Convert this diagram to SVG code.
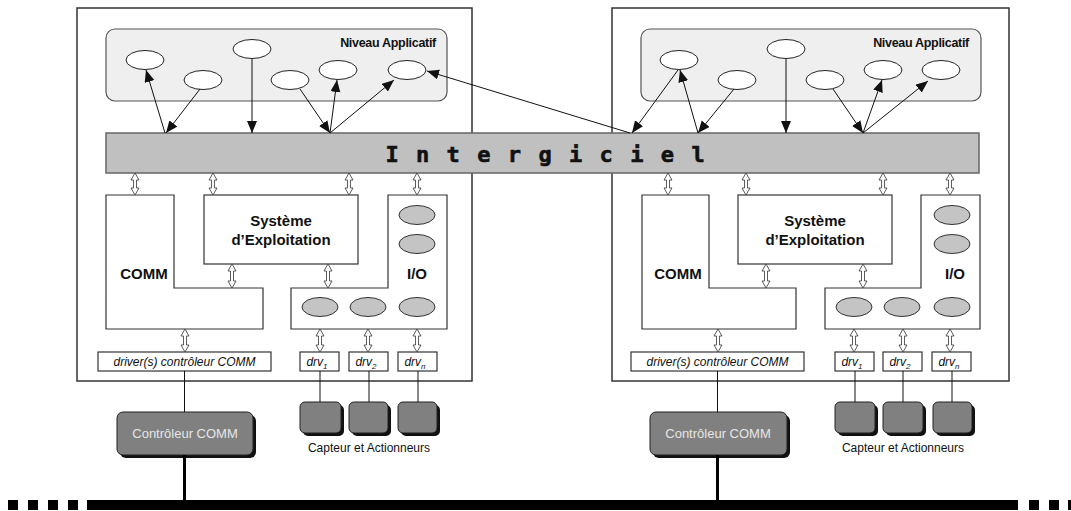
<svg xmlns="http://www.w3.org/2000/svg" width="1071" height="511" viewBox="0 0 1071 511">
<style>
.outer{fill:#fff;stroke:#333;stroke-width:1.5}
.app{fill:#efefef;stroke:#555;stroke-width:1.2}
.bar{fill:#c0c0c0;stroke:#666;stroke-width:1.5}
.blk{fill:#fff;stroke:#333;stroke-width:1.2}
.wel{fill:#fff;stroke:#222;stroke-width:1}
.gel{fill:#c4c4c4;stroke:#333;stroke-width:1}
.ln{stroke:#111;stroke-width:1;fill:none}
.arr{stroke:#111;stroke-width:1;fill:none;marker-end:url(#ah)}
.dbl{fill:#fff;stroke:#333;stroke-width:0.8}
.dev{fill:#808080;stroke:#222;stroke-width:1}
.sh{fill:#111}
.t{font-family:"Liberation Sans",Arial,sans-serif;fill:#111}
.b{font-weight:bold}
.i{font-style:italic}
</style>
<defs>
<marker id="ah" markerUnits="userSpaceOnUse" markerWidth="13" markerHeight="11" refX="12" refY="5" orient="auto">
<path d="M0,0 L12,5 L0,10 z" fill="#111"/>
</marker>
</defs>

<!-- Bus -->
<g id="bus">
<rect x="87" y="500" width="931" height="10" fill="#000"/>
<rect x="8" y="500" width="10" height="10" fill="#000"/>
<rect x="28" y="500" width="10" height="10" fill="#000"/>
<rect x="48" y="500" width="10" height="10" fill="#000"/>
<rect x="68" y="500" width="10" height="10" fill="#000"/>
<rect x="1029" y="500" width="10" height="10" fill="#000"/>
<rect x="1049" y="500" width="10" height="10" fill="#000"/>
<rect x="1068" y="500" width="10" height="10" fill="#000"/>
</g>

<!-- Left node -->
<g id="node-left">
<rect class="outer" x="77" y="8" width="395" height="373"/>
<g id="app-left">
<rect class="app" x="106" y="29" width="341" height="72" rx="9"/>
<text class="t b" x="436" y="47" font-size="12.5" text-anchor="end" letter-spacing="-0.3">Niveau Applicatif</text>
<ellipse class="wel" cx="145" cy="60" rx="19" ry="9.5"/>
<ellipse class="wel" cx="203" cy="80" rx="19" ry="9.5"/>
<ellipse class="wel" cx="252" cy="49" rx="19" ry="9.5"/>
<ellipse class="wel" cx="290" cy="80" rx="19" ry="9.5"/>
<ellipse class="wel" cx="338" cy="70" rx="19" ry="9.5"/>
<ellipse class="wel" cx="407" cy="70" rx="19" ry="9.5"/>
</g>
<g id="comm-left">
<path class="blk" d="M106,195 H174 V288 H263 V329 H106 Z"/>
<text class="t b" x="144" y="279" font-size="15" text-anchor="middle">COMM</text>
</g>
<g id="os-left">
<rect class="blk" x="204" y="195" width="154" height="69"/>
<text class="t b" x="281" y="226" font-size="15" text-anchor="middle">Système</text>
<text class="t b" x="281" y="245" font-size="15" text-anchor="middle">d’Exploitation</text>
</g>
<g id="io-left">
<path class="blk" d="M388,195 H447 V329 H291 V288 H388 Z"/>
<text class="t b" x="417" y="279" font-size="15" text-anchor="middle">I/O</text>
<ellipse class="gel" cx="417" cy="215" rx="18" ry="9.5"/>
<ellipse class="gel" cx="417" cy="244" rx="18" ry="9.5"/>
<ellipse class="gel" cx="320" cy="307" rx="18" ry="9.5"/>
<ellipse class="gel" cx="368" cy="307" rx="18" ry="9.5"/>
<ellipse class="gel" cx="417" cy="307" rx="18" ry="9.5"/>
</g>
<g id="drivers-left">
<rect class="blk" x="98" y="352" width="173" height="19"/>
<text class="t i" x="184.5" y="366" font-size="12" text-anchor="middle">driver(s) contrôleur COMM</text>
<rect class="blk" x="300" y="352" width="39" height="19"/>
<text class="t i" x="317" y="366" font-size="12" text-anchor="middle">drv<tspan font-size="8" dy="3">1</tspan></text>
<rect class="blk" x="349" y="352" width="39" height="19"/>
<text class="t i" x="366" y="366" font-size="12" text-anchor="middle">drv<tspan font-size="8" dy="3">2</tspan></text>
<rect class="blk" x="398" y="352" width="39" height="19"/>
<text class="t i" x="415" y="366" font-size="12" text-anchor="middle">drv<tspan font-size="8" dy="3">n</tspan></text>
</g>
<g id="ctrl-left">
<rect class="sh" x="120" y="415" width="136" height="43" rx="6"/>
<rect class="dev" x="117" y="412" width="136" height="43" rx="6"/>
<text class="t" x="185" y="438" font-size="13" text-anchor="middle" style="fill:#e6e6e6">Contrôleur COMM</text>
</g>
<g id="sensors-left">
<rect class="sh" x="303" y="405" width="41" height="31" rx="5"/>
<rect class="dev" x="300" y="402" width="41" height="31" rx="5"/>
<rect class="sh" x="352" y="405" width="39" height="31" rx="5"/>
<rect class="dev" x="349" y="402" width="39" height="31" rx="5"/>
<rect class="sh" x="401" y="405" width="39" height="31" rx="5"/>
<rect class="dev" x="398" y="402" width="39" height="31" rx="5"/>
<text class="t" x="369" y="452" font-size="12" text-anchor="middle">Capteur et Actionneurs</text>
</g>
</g>

<!-- Right node -->
<g id="node-right">
<rect class="outer" x="612" y="8" width="397" height="373"/>
<g id="app-right">
<rect class="app" x="641" y="29" width="340" height="72" rx="9"/>
<text class="t b" x="969" y="47" font-size="12.5" text-anchor="end" letter-spacing="-0.3">Niveau Applicatif</text>
<ellipse class="wel" cx="679" cy="60" rx="19" ry="9.5"/>
<ellipse class="wel" cx="737" cy="80" rx="19" ry="9.5"/>
<ellipse class="wel" cx="786" cy="49" rx="19" ry="9.5"/>
<ellipse class="wel" cx="825" cy="80" rx="19" ry="9.5"/>
<ellipse class="wel" cx="883" cy="70" rx="19" ry="9.5"/>
<ellipse class="wel" cx="941" cy="70" rx="19" ry="9.5"/>
</g>
<g id="comm-right">
<path class="blk" d="M642,195 H709 V288 H796 V329 H642 Z"/>
<text class="t b" x="678" y="279" font-size="15" text-anchor="middle">COMM</text>
</g>
<g id="os-right">
<rect class="blk" x="738" y="195" width="154" height="69"/>
<text class="t b" x="815" y="226" font-size="15" text-anchor="middle">Système</text>
<text class="t b" x="815" y="245" font-size="15" text-anchor="middle">d’Exploitation</text>
</g>
<g id="io-right">
<path class="blk" d="M921,195 H980 V329 H825 V288 H921 Z"/>
<text class="t b" x="955" y="279" font-size="15" text-anchor="middle">I/O</text>
<ellipse class="gel" cx="952" cy="215" rx="18" ry="9.5"/>
<ellipse class="gel" cx="952" cy="244" rx="18" ry="9.5"/>
<ellipse class="gel" cx="854" cy="307" rx="18" ry="9.5"/>
<ellipse class="gel" cx="902" cy="307" rx="18" ry="9.5"/>
<ellipse class="gel" cx="952" cy="307" rx="18" ry="9.5"/>
</g>
<g id="drivers-right">
<rect class="blk" x="631" y="352" width="173" height="19"/>
<text class="t i" x="717.5" y="366" font-size="12" text-anchor="middle">driver(s) contrôleur COMM</text>
<rect class="blk" x="835" y="352" width="39" height="19"/>
<text class="t i" x="852" y="366" font-size="12" text-anchor="middle">drv<tspan font-size="8" dy="3">1</tspan></text>
<rect class="blk" x="883" y="352" width="39" height="19"/>
<text class="t i" x="900" y="366" font-size="12" text-anchor="middle">drv<tspan font-size="8" dy="3">2</tspan></text>
<rect class="blk" x="932" y="352" width="39" height="19"/>
<text class="t i" x="949" y="366" font-size="12" text-anchor="middle">drv<tspan font-size="8" dy="3">n</tspan></text>
</g>
<g id="ctrl-right">
<rect class="sh" x="653" y="415" width="137" height="43" rx="6"/>
<rect class="dev" x="650" y="412" width="137" height="43" rx="6"/>
<text class="t" x="718" y="438" font-size="13" text-anchor="middle" style="fill:#e6e6e6">Contrôleur COMM</text>
</g>
<g id="sensors-right">
<rect class="sh" x="838" y="405" width="40" height="31" rx="5"/>
<rect class="dev" x="835" y="402" width="40" height="31" rx="5"/>
<rect class="sh" x="886" y="405" width="40" height="31" rx="5"/>
<rect class="dev" x="883" y="402" width="40" height="31" rx="5"/>
<rect class="sh" x="936" y="405" width="39" height="31" rx="5"/>
<rect class="dev" x="933" y="402" width="39" height="31" rx="5"/>
<text class="t" x="903" y="452" font-size="12" text-anchor="middle">Capteur et Actionneurs</text>
</g>
</g>

<!-- Intergiciel -->
<g id="intergiciel">
<rect class="bar" x="106" y="133" width="873" height="40"/>
<text x="392 422.6 453.2 483.8 514.4 545 575.6 606.2 636.8 667.4 698" y="161.5" text-anchor="middle" font-family="'DejaVu Sans Mono',monospace" font-weight="bold" font-size="22" fill="#111" stroke="#111" stroke-width="0.6">Intergiciel</text>
</g>

<!-- Connectors -->
<g id="connectors">
<line class="arr" x1="165" y1="133" x2="146" y2="70"/>
<line class="arr" x1="200" y1="89" x2="166" y2="133"/>
<line class="arr" x1="252" y1="59" x2="252" y2="133"/>
<line class="arr" x1="300" y1="89" x2="330" y2="133"/>
<line class="arr" x1="330" y1="133" x2="337" y2="80"/>
<line class="arr" x1="330" y1="133" x2="394" y2="80"/>
<line class="arr" x1="630" y1="133" x2="427" y2="71"/>

<line class="arr" x1="678" y1="70" x2="632" y2="133"/>
<line class="arr" x1="698" y1="133" x2="680" y2="70"/>
<line class="arr" x1="734" y1="89" x2="698" y2="133"/>
<line class="arr" x1="786" y1="59" x2="786" y2="133"/>
<line class="arr" x1="833" y1="89" x2="863" y2="133"/>
<line class="arr" x1="863" y1="133" x2="882" y2="80"/>
<line class="arr" x1="863" y1="133" x2="928" y2="81"/>

<line class="ln" x1="184.5" y1="371" x2="184.5" y2="412"/>
<line x1="184.5" y1="455" x2="184.5" y2="501" stroke="#000" stroke-width="3"/>
<line class="ln" x1="320" y1="371" x2="320" y2="402"/>
<line class="ln" x1="369" y1="371" x2="369" y2="402"/>
<line class="ln" x1="418" y1="371" x2="418" y2="402"/>

<line class="ln" x1="717.5" y1="371" x2="717.5" y2="412"/>
<line x1="717.5" y1="455" x2="717.5" y2="501" stroke="#000" stroke-width="3"/>
<line class="ln" x1="855" y1="371" x2="855" y2="402"/>
<line class="ln" x1="903" y1="371" x2="903" y2="402"/>
<line class="ln" x1="952" y1="371" x2="952" y2="402"/>

<!-- double arrows -->
<polygon class="dbl" points="135,173 139,180 136.5,180 136.5,188 139,188 135,195 131,188 133.5,188 133.5,180 131,180"/>
<polygon class="dbl" points="213,173 217,180 214.5,180 214.5,188 217,188 213,195 209,188 211.5,188 211.5,180 209,180"/>
<polygon class="dbl" points="349,173 353,180 350.5,180 350.5,188 353,188 349,195 345,188 347.5,188 347.5,180 345,180"/>
<polygon class="dbl" points="417,173 421,180 418.5,180 418.5,188 421,188 417,195 413,188 415.5,188 415.5,180 413,180"/>
<polygon class="dbl" points="232,264 236,271 233.5,271 233.5,281 236,281 232,288 228,281 230.5,281 230.5,271 228,271"/>
<polygon class="dbl" points="328,264 332,271 329.5,271 329.5,281 332,281 328,288 324,281 326.5,281 326.5,271 324,271"/>
<polygon class="dbl" points="185,329 189,336 186.5,336 186.5,345 189,345 185,352 181,345 183.5,345 183.5,336 181,336"/>
<polygon class="dbl" points="320,329 324,336 321.5,336 321.5,345 324,345 320,352 316,345 318.5,345 318.5,336 316,336"/>
<polygon class="dbl" points="368,329 372,336 369.5,336 369.5,345 372,345 368,352 364,345 366.5,345 366.5,336 364,336"/>
<polygon class="dbl" points="417,329 421,336 418.5,336 418.5,345 421,345 417,352 413,345 415.5,345 415.5,336 413,336"/>

<polygon class="dbl" points="668,173 672,180 669.5,180 669.5,188 672,188 668,195 664,188 666.5,188 666.5,180 664,180"/>
<polygon class="dbl" points="746,173 750,180 747.5,180 747.5,188 750,188 746,195 742,188 744.5,188 744.5,180 742,180"/>
<polygon class="dbl" points="883,173 887,180 884.5,180 884.5,188 887,188 883,195 879,188 881.5,188 881.5,180 879,180"/>
<polygon class="dbl" points="950,173 954,180 951.5,180 951.5,188 954,188 950,195 946,188 948.5,188 948.5,180 946,180"/>
<polygon class="dbl" points="766,264 770,271 767.5,271 767.5,281 770,281 766,288 762,281 764.5,281 764.5,271 762,271"/>
<polygon class="dbl" points="863,264 867,271 864.5,271 864.5,281 867,281 863,288 859,281 861.5,281 861.5,271 859,271"/>
<polygon class="dbl" points="718,329 722,336 719.5,336 719.5,345 722,345 718,352 714,345 716.5,345 716.5,336 714,336"/>
<polygon class="dbl" points="854,329 858,336 855.5,336 855.5,345 858,345 854,352 850,345 852.5,345 852.5,336 850,336"/>
<polygon class="dbl" points="903,329 907,336 904.5,336 904.5,345 907,345 903,352 899,345 901.5,345 901.5,336 899,336"/>
<polygon class="dbl" points="950,329 954,336 951.5,336 951.5,345 954,345 950,352 946,345 948.5,345 948.5,336 946,336"/>
</g>
</svg>
